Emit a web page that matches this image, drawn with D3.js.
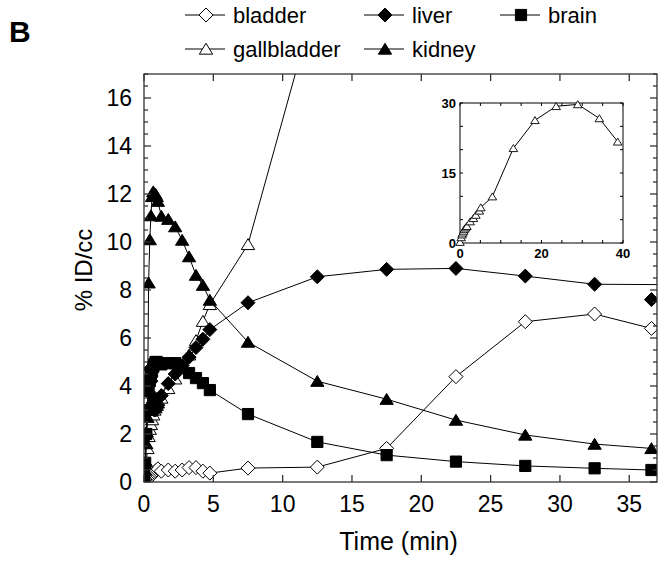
<!DOCTYPE html>
<html><head><meta charset="utf-8">
<script src="https://cdn.jsdelivr.net/npm/d3@7"></script>
<style>body{margin:0;background:#fff}svg{display:block;font-family:Arial,"Liberation Sans",sans-serif}</style>
</head><body><div id="chart"></div>
<script>
// ---- data ----
const times = [0, 0.083, 0.167, 0.25, 0.333, 0.417, 0.5, 0.583, 0.667, 0.75, 0.833, 0.917, 1.0,
  1.25, 1.75, 2.25, 2.75, 3.25, 3.75, 4.25, 4.75, 7.5, 12.5, 17.5, 22.5, 27.5, 32.5, 36.6];
const bladder = [0, 0.02, 0.05, 0.1, 0.15, 0.2, 0.25, 0.3, 0.35, 0.4, 0.45, 0.5, 0.55,
  0.45, 0.5, 0.45, 0.5, 0.6, 0.6, 0.45, 0.37, 0.58, 0.62, 1.4, 4.39, 6.68, 7.0, 6.4];
const liver = [0.3, 0.7, 1.9, 3.0, 4.3, 4.7, 4.2, 3.6, 3.3, 3.0, 3.0, 3.1, 3.2,
  3.6, 4.1, 4.5, 4.85, 5.2, 5.6, 5.95, 6.35, 7.47, 8.55, 8.86, 8.9, 8.58, 8.24, 7.6];
const liverLineTail = [38.5, 8.22]; // liver trace continues past the axis end
const brain = [0.1, 0.8, 2.0, 3.0, 3.8, 4.2, 4.4, 4.6, 4.8, 4.9, 5.0, 5.0, 4.95,
  4.9, 4.95, 4.95, 4.75, 4.54, 4.33, 4.12, 3.83, 2.83, 1.67, 1.12, 0.85, 0.67, 0.57, 0.5];
const gallbladder = [0.05, 0.3, 0.8, 1.4, 1.9, 2.2, 2.4, 2.6, 2.8, 3.0, 3.1, 3.2, 3.3,
  3.5, 3.9, 4.3, 4.8, 5.3, 5.9, 6.7, 7.4, 9.9, 20.3, 26.3, 29.3, 29.7, 26.7, 21.7];
const kidney = [0.05, 0.5, 1.6, 2.7, 8.3, 10.1, 11.1, 11.9, 12.1, 12.0, 12.0, 11.9, 11.7,
  11.08, 10.95, 10.64, 10.08, 9.39, 8.62, 8.2, 7.58, 5.83, 4.2, 3.45, 2.58, 1.96, 1.58, 1.4];
const insetTimes = [0, 0.3, 0.5, 0.7, 0.9, 1.1, 1.4, 1.7, 2.5, 3.3, 3.9, 4.75, 5.1, 7.95, 13.1, 18.4, 23.6, 28.9, 34.2, 38.7];
const insetGall = [0.2, 1.2, 1.8, 2.2, 2.6, 3.0, 3.3, 3.6, 4.6, 5.3, 6.0, 6.9, 7.6, 9.95, 20.3, 26.3, 29.3, 29.7, 26.7, 21.7];
const xTicks = [0, 5, 10, 15, 20, 25, 30, 35];
const yTicks = [0, 2, 4, 6, 8, 10, 12, 14, 16];
const insetXTicks = [0, 20, 40];
const insetYTicks = [0, 15, 30];
const legendItems = [
  {name: "bladder", shape: "diamond", filled: false},
  {name: "liver", shape: "diamond", filled: true},
  {name: "brain", shape: "square", filled: true},
  {name: "gallbladder", shape: "triangle", filled: false},
  {name: "kidney", shape: "triangle", filled: true}
];

// ---- layout ----
const W = 665, H = 563;
const m = {left: 144, top: 74, right: 657, bottom: 482};
const svg = d3.select("#chart").append("svg").attr("width", W).attr("height", H);
const x = d3.scaleLinear().domain([0, 37]).range([m.left, m.right]);
const y = d3.scaleLinear().domain([0, 17]).range([m.bottom, m.top]);

function shapePath(shape, s) {
  if (shape === "diamond") return `M0,${-s}L${s},0L0,${s}L${-s},0Z`;
  if (shape === "square") { const h = s * 0.8; return `M${-h},${-h}H${h}V${h}H${-h}Z`; }
  const w = s * 0.95, h = s * 0.82; return `M0,${-h}L${w},${h * 0.9}L${-w},${h * 0.9}Z`;
}

svg.append("defs").append("clipPath").attr("id", "clip").append("rect")
  .attr("x", m.left).attr("y", m.top).attr("width", m.right - m.left).attr("height", m.bottom - m.top);

const plot = svg.append("g").attr("clip-path", "url(#clip)");
const line = d3.line().x(d => x(d[0])).y(d => y(d[1]));

function drawSeries(vals, shape, filled, lineTail) {
  const pts = times.map((t, i) => [t, vals[i]]);
  let lpts = pts;
  if (lineTail) lpts = pts.slice(0, -1).concat([lineTail]);
  plot.append("path").attr("d", line(lpts)).attr("fill", "none").attr("stroke", "#000").attr("stroke-width", 1);
  plot.append("g").selectAll("path").data(pts).join("path")
    .attr("transform", d => `translate(${x(d[0])},${y(d[1])})`)
    .attr("d", shapePath(shape, 7))
    .attr("fill", filled ? "#000" : "#fff").attr("stroke", "#000").attr("stroke-width", 1);
}
drawSeries(bladder, "diamond", false);
drawSeries(gallbladder, "triangle", false);
drawSeries(brain, "square", true);
drawSeries(liver, "diamond", true, liverLineTail);
drawSeries(kidney, "triangle", true);

// ---- frame and ticks ----
const axG = svg.append("g").attr("stroke", "#333").attr("stroke-width", 1.3);
axG.append("rect").attr("x", m.left).attr("y", m.top).attr("width", m.right - m.left).attr("height", m.bottom - m.top).attr("fill", "none");
xTicks.forEach(t => {
  axG.append("line").attr("x1", x(t)).attr("x2", x(t)).attr("y1", m.bottom).attr("y2", m.bottom - 7);
  axG.append("line").attr("x1", x(t)).attr("x2", x(t)).attr("y1", m.top).attr("y2", m.top + 7);
});
d3.range(0, 17.01, 0.5).forEach(v => {
  const len = (v % 2 === 0) ? 7 : 4;
  axG.append("line").attr("x1", m.left).attr("x2", m.left + len).attr("y1", y(v)).attr("y2", y(v));
  axG.append("line").attr("x1", m.right).attr("x2", m.right - len).attr("y1", y(v)).attr("y2", y(v));
});
svg.append("g").selectAll("text").data(xTicks).join("text")
  .attr("x", d => x(d)).attr("y", m.bottom + 30).attr("text-anchor", "middle")
  .attr("font-size", 23).text(d => d);
svg.append("g").selectAll("text").data(yTicks).join("text")
  .attr("x", m.left - 12).attr("y", d => y(d) + 8).attr("text-anchor", "end")
  .attr("font-size", 23).text(d => d);
svg.append("text").attr("x", (m.left + m.right) / 2 - 2).attr("y", 550).attr("text-anchor", "middle")
  .attr("font-size", 25).text("Time (min)");
svg.append("text").attr("transform", `translate(92,270) rotate(-90)`).attr("text-anchor", "middle")
  .attr("font-size", 24).text("% ID/cc");
svg.append("text").attr("x", 9).attr("y", 42).attr("font-size", 30).attr("font-weight", "bold").text("B");

// ---- legend ----
const legPos = [[185, 15], [364, 15], [500, 15], [185, 49], [364, 49]];
legendItems.forEach((d, i) => {
  const [lx, ly] = legPos[i];
  const g = svg.append("g").attr("transform", `translate(${lx},${ly})`);
  g.append("line").attr("x1", 0).attr("x2", 40).attr("stroke", "#000").attr("stroke-width", 1);
  g.append("path").attr("transform", "translate(21,0)").attr("d", shapePath(d.shape, 7))
    .attr("fill", d.filled ? "#000" : "#fff").attr("stroke", "#000");
  g.append("text").attr("x", 48).attr("y", 8).attr("font-size", 22).text(d.name);
});

// ---- inset ----
const ix = d3.scaleLinear().domain([0, 40]).range([460, 623]);
const iy = d3.scaleLinear().domain([0, 30]).range([243, 103]);
const inset = svg.append("g");
inset.append("rect").attr("x", 460).attr("y", 103).attr("width", 163).attr("height", 140)
  .attr("fill", "#fff").attr("stroke", "#000").attr("stroke-width", 1);
d3.range(0, 40.01, 5).forEach(t => {
  inset.append("line").attr("x1", ix(t)).attr("x2", ix(t)).attr("y1", 243).attr("y2", 240).attr("stroke", "#000");
  inset.append("line").attr("x1", ix(t)).attr("x2", ix(t)).attr("y1", 103).attr("y2", 106).attr("stroke", "#000");
});
d3.range(0, 30.01, 5).forEach(v => {
  inset.append("line").attr("x1", 460).attr("x2", 463).attr("y1", iy(v)).attr("y2", iy(v)).attr("stroke", "#000");
  inset.append("line").attr("x1", 623).attr("x2", 620).attr("y1", iy(v)).attr("y2", iy(v)).attr("stroke", "#000");
});
const ipts = insetTimes.map((t, i) => [t, insetGall[i]]);
inset.append("path").attr("d", d3.line().x(d => ix(d[0])).y(d => iy(d[1]))(ipts))
  .attr("fill", "none").attr("stroke", "#000").attr("stroke-width", 1);
inset.append("g").selectAll("path").data(ipts).join("path")
  .attr("transform", d => `translate(${ix(d[0])},${iy(d[1])})`)
  .attr("d", shapePath("triangle", 4.5)).attr("fill", "#fff").attr("stroke", "#000").attr("stroke-width", 0.9);
inset.append("g").selectAll("text").data(insetXTicks).join("text")
  .attr("x", d => ix(d)).attr("y", 258).attr("text-anchor", "middle")
  .attr("font-size", 13).attr("font-weight", "bold").text(d => d);
inset.append("g").selectAll("text").data(insetYTicks).join("text")
  .attr("x", 456).attr("y", d => iy(d) + 4.5).attr("text-anchor", "end")
  .attr("font-size", 13).attr("font-weight", "bold").text(d => d);
</script></body></html>
